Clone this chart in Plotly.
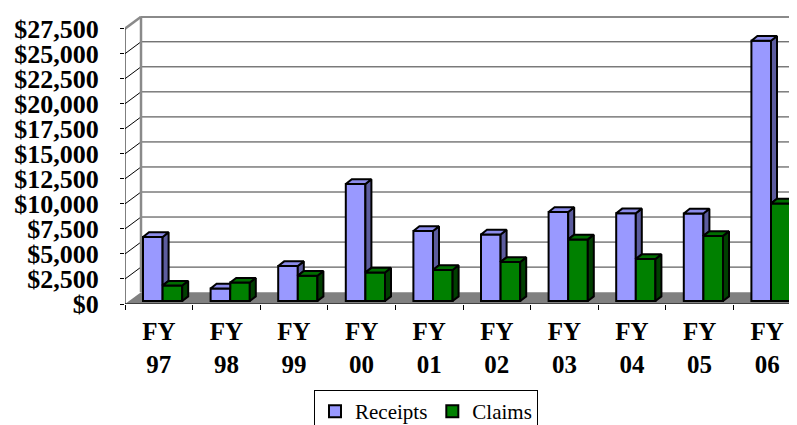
import plotly.graph_objects as go

# ---------------- data ----------------
categories = ["FY<br>97", "FY<br>98", "FY<br>99", "FY<br>00", "FY<br>01",
              "FY<br>02", "FY<br>03", "FY<br>04", "FY<br>05", "FY<br>06"]
receipts = [6400, 1260, 3500, 11700, 7000, 6650, 8900, 8770, 8750, 26000]
claims = [1550, 1850, 2530, 2850, 3110, 3900, 6160, 4200, 6510, 9750]
tick_values = [0, 2500, 5000, 7500, 10000, 12500, 15000, 17500, 20000, 22500, 25000, 27500]
tick_labels = ["$0", "$2,500", "$5,000", "$7,500", "$10,000", "$12,500", "$15,000",
               "$17,500", "$20,000", "$22,500", "$25,000", "$27,500"]

# ---------------- geometry (pixels -> data units) ----------------
W_PX, H_PX = 797, 425
M_L, M_R, M_T, M_B = 117, 0, 8, 121
plot_w = W_PX - M_L - M_R
plot_h = H_PX - M_T - M_B
n = len(categories)
px_per_cat = 67.6
y_max_tick = tick_values[-1]
px_per_val = 283.0 / y_max_tick
ux = 1.0 / px_per_cat          # x units per pixel
uy = 1.0 / px_per_val          # value units per pixel
x_lo = -0.5
x_hi = x_lo + plot_w * ux
y_hi = plot_h * uy

# back wall depth offset
dxw, dyw = 16 * ux, 12.2 * uy
# bar plane offset and bar depth
shift, b0 = 3.8 * ux, 3 * uy
dxb, dyb = 6 * ux, 4.8 * uy
W = 19.6 * ux

xs = [i + shift for i in range(n)]

fig = go.Figure()

fig.add_trace(go.Bar(x=xs, y=receipts, base=[b0] * n, width=W, offset=-W,
                     name="Receipts",
                     marker=dict(color="#9999FF", line=dict(color="black", width=2))))
fig.add_trace(go.Bar(x=xs, y=claims, base=[b0] * n, width=W, offset=0,
                     name="Claims",
                     marker=dict(color="#008000", line=dict(color="black", width=2))))

# 3D faces computed from the same values
rs_x, rs_y, rt_x, rt_y, cs_x, cs_y, ct_x, ct_y = [], [], [], [], [], [], [], []
for cx, r, c in zip(xs, receipts, claims):
    R, C = b0 + r, b0 + c
    # receipts side (visible part above claims)
    if r > c:
        rs_x += [cx, cx + dxb, cx + dxb, cx, cx, None]
        rs_y += [C, C + dyb, R + dyb, R, C, None]
    # receipts top
    if c > r:
        rt_x += [cx - W, cx, cx, cx - W + dxb, cx - W, None]
        rt_y += [R, R, R + dyb, R + dyb, R, None]
    else:
        rt_x += [cx - W, cx, cx + dxb, cx - W + dxb, cx - W, None]
        rt_y += [R, R, R + dyb, R + dyb, R, None]
    # claims side
    xr = cx + W
    cs_x += [xr, xr + dxb, xr + dxb, xr, xr, None]
    cs_y += [b0, b0 + dyb, C + dyb, C, b0, None]
    # claims top
    ct_x += [cx, xr, xr + dxb, cx + dxb, cx, None]
    ct_y += [C, C, C + dyb, C + dyb, C, None]

for fx, fy, col in [(rs_x, rs_y, "#5C5C9E"), (rt_x, rt_y, "#8C8CEB"),
                    (cs_x, cs_y, "#003F00"), (ct_x, ct_y, "#006E00")]:
    fig.add_trace(go.Scatter(x=fx, y=fy, mode="lines", fill="toself", fillcolor=col,
                             line=dict(color="black", width=2), showlegend=False,
                             hoverinfo="skip"))

# ---------------- walls, floor, gridlines ----------------
shapes = []
# floor
shapes.append(dict(type="path", xref="x", yref="y", layer="below",
                   path=f"M {x_lo},0 L {n - 0.5},0 L {n - 0.5 + dxw},{dyw} L {x_lo + dxw},{dyw} Z",
                   fillcolor="#808080", line=dict(width=0)))
for v in tick_values[1:-1]:
    shapes.append(dict(type="line", xref="x", yref="y", layer="below",
                       x0=x_lo + dxw, x1=x_hi, y0=v + dyw, y1=v + dyw,
                       line=dict(color="#3a3a3a", width=1)))
    shapes.append(dict(type="line", xref="x", yref="y", layer="below",
                       x0=x_lo, x1=x_lo + dxw, y0=v, y1=v + dyw,
                       line=dict(color="black", width=1)))
# back wall borders
shapes.append(dict(type="line", xref="x", yref="y", layer="below",
                   x0=x_lo + dxw, x1=x_hi, y0=y_max_tick + dyw, y1=y_max_tick + dyw,
                   line=dict(color="#8a8a8a", width=2.5)))
shapes.append(dict(type="line", xref="x", yref="y", layer="below",
                   x0=x_lo + dxw, x1=x_lo + dxw, y0=dyw, y1=y_max_tick + dyw,
                   line=dict(color="#8a8a8a", width=2.5)))
shapes.append(dict(type="line", xref="x", yref="y", layer="below",
                   x0=x_lo, x1=x_lo + dxw, y0=y_max_tick, y1=y_max_tick + dyw,
                   line=dict(color="#8a8a8a", width=2.5)))
# front axes lines
shapes.append(dict(type="line", xref="x", yref="y", layer="above",
                   x0=x_lo, x1=x_lo, y0=0, y1=y_max_tick,
                   line=dict(color="black", width=1)))
shapes.append(dict(type="line", xref="x", yref="y", layer="above",
                   x0=x_lo, x1=n - 0.5, y0=0, y1=0,
                   line=dict(color="black", width=1.2)))

font_fam = "Liberation Serif"
legend_fam = "Times New Roman, Liberation Serif, Tinos, DejaVu Serif, serif"

fig.update_layout(
    width=W_PX, height=H_PX,
    margin=dict(l=M_L, r=M_R, t=M_T, b=M_B, pad=0),
    paper_bgcolor="white", plot_bgcolor="white",
    barmode="overlay",
    shapes=shapes,
    font=dict(family=font_fam, color="black"),
    xaxis=dict(range=[x_lo, x_hi], showgrid=False, zeroline=False, showline=False,
               tickmode="array", tickvals=list(range(n)), ticktext=categories,
               ticks="", ticklabelstandoff=10,
               tickfont=dict(family=font_fam, size=25, color="black", weight="bold"),
               minor=dict(tickmode="array", tickvals=[i - 0.5 for i in range(n + 1)],
                          ticks="outside", ticklen=5, tickcolor="black", tickwidth=1)),
    yaxis=dict(range=[0, y_hi], showgrid=False, zeroline=False, showline=False,
               tickmode="array", tickvals=tick_values, ticktext=tick_labels,
               ticks="outside", ticklen=4, tickcolor="black", tickwidth=1,
               ticklabelstandoff=16,
               tickfont=dict(family=font_fam, size=26, color="black", weight="bold")),
    legend=dict(orientation="h", x=(418 - M_L) / plot_w, xanchor="center",
                y=-(393 - (H_PX - M_B)) / plot_h, yanchor="top",
                bgcolor="white", bordercolor="black", borderwidth=1,
                font=dict(family=legend_fam, size=21, color="black", weight="normal",
                          style="normal"),
                itemwidth=30, traceorder="normal"),
    showlegend=True,
)

fig.write_html("out.html")
